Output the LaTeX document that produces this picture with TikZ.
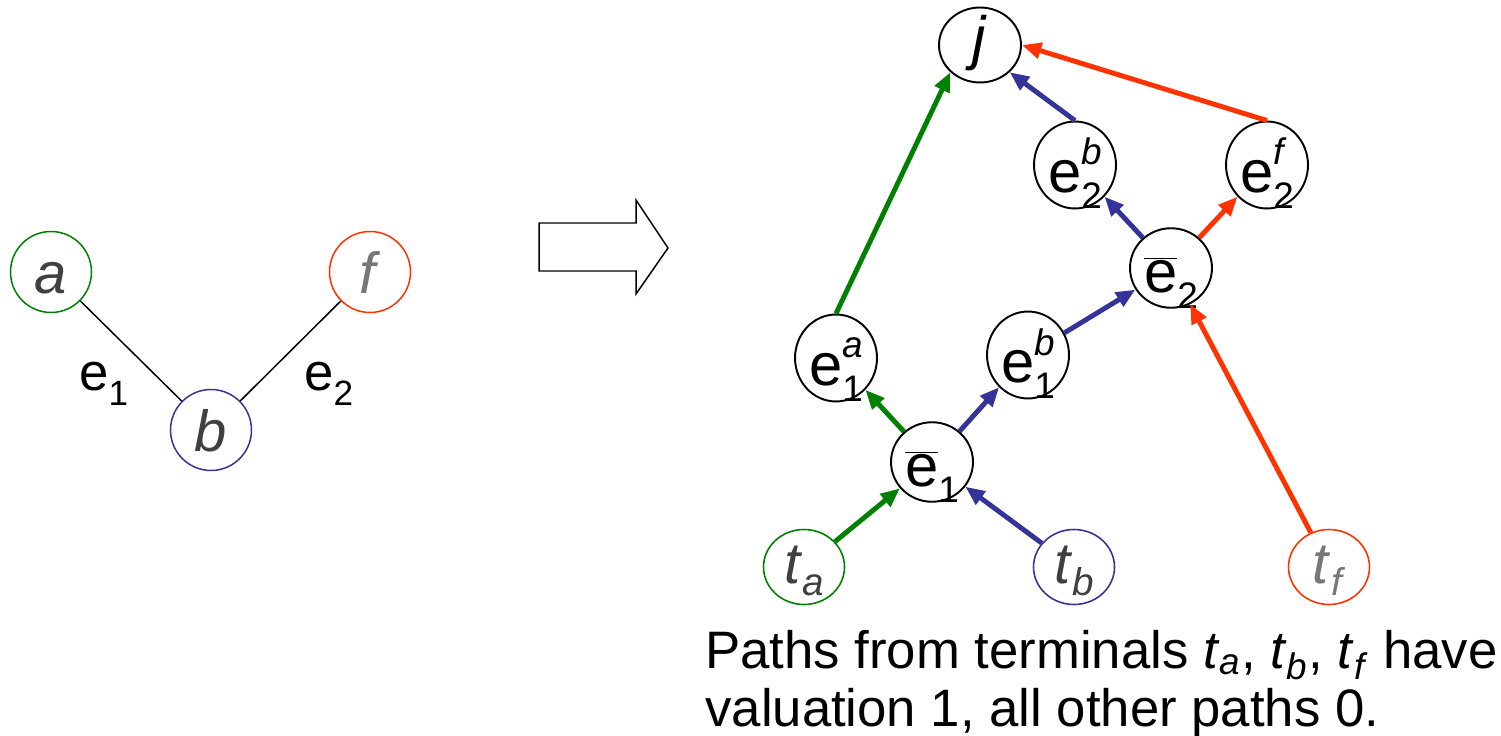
\documentclass[tikz,border=0pt]{standalone}
\usepackage{fontspec}
\setmainfont{Liberation Sans}
\usetikzlibrary{arrows.meta,shapes.geometric}

\definecolor{pgreen}{RGB}{0,128,0}
\definecolor{pblue}{RGB}{51,51,153}
\definecolor{pred}{RGB}{255,51,0}
\definecolor{dgray}{RGB}{64,64,64}
\definecolor{lgray}{RGB}{119,119,119}

\newcommand{\scrsz}{\fontsize{21}{21}\selectfont}
% e with stacked super- and subscript, e with a bar, terminal t
\newcommand{\eud}[2]{e\rlap{\raisebox{15.5pt}{\scrsz\textit{#1}}}\raisebox{-9pt}{\scrsz #2}}
\newcommand{\ebar}[1]{$\overline{\hbox{e}}$\raisebox{-9pt}{\scrsz #1}}
\newcommand{\term}[1]{\textit{t}\raisebox{-7pt}{\fontsize{22}{22}\selectfont\textit{#1}}}

\tikzset{
  vert/.style={circle, draw, line width=0.85pt, minimum size=1.62cm, inner sep=0pt,
    font=\fontsize{33}{38}\selectfont, text height=27pt, text depth=2pt},
  enode/.style={ellipse, draw, line width=1.1pt, minimum width=1.64cm, minimum height=1.56cm,
    inner sep=0pt, font=\fontsize{34}{40}\selectfont, text height=33pt, text depth=2pt},
  tnode/.style={ellipse, draw, line width=0.9pt, minimum width=1.62cm, minimum height=1.5cm,
    inner sep=0pt, font=\fontsize{33}{38}\selectfont, text height=21pt, text depth=2pt},
  flow/.style={line width=2.8pt, -{Triangle[length=11pt,width=9pt]}},
  txt/.style={anchor=base west, inner sep=0pt, font=\fontsize{30}{36}\selectfont}
}

\begin{document}
\begin{tikzpicture}[x=0.02cm, y=-0.02cm]
  \useasboundingbox (0,0) rectangle (1501,736);

  % the small graph
  \node[vert, pgreen, text=dgray] (a) at (51,272) {\textit{a}};
  \node[vert, pred, text=lgray] (f) at (370,272) {\textit{f}};
  \node[vert, pblue, text=dgray] (b) at (211,430) {\textit{b}};
  \draw[line width=0.85pt] (a) -- (b);
  \draw[line width=0.85pt] (f) -- (b);
  \node[anchor=base west, inner sep=0pt, font=\fontsize{30}{36}\selectfont] (lab1) at (79,391)
    {e\raisebox{-8pt}{\fontsize{20}{20}\selectfont 1}};
  \node[anchor=base west, inner sep=0pt, font=\fontsize{30}{36}\selectfont] (lab2) at (304,391)
    {e\raisebox{-8pt}{\fontsize{20}{20}\selectfont 2}};

  % block arrow
  \draw[line width=0.85pt] (539,223) -- (636,223) -- (636,200) -- (668,248)
    -- (636,294) -- (636,271) -- (539,271) -- cycle;

  % the flow graph
  \node[enode, minimum height=1.5cm, text height=17pt] (j) at (980,45) {\textit{j}};
  \node[enode] (e2b) at (1075,165) {\eud{b}{2}};
  \node[enode] (e2f) at (1267,165) {\eud{f}{2}};
  \node[enode, text height=30pt] (eb2) at (1171,268) {\ebar{2}};
  \node[enode] (e1a) at (836,358) {\eud{a}{1}};
  \node[enode] (e1b) at (1028,355) {\eud{b}{1}};
  \node[enode, text height=30pt] (eb1) at (932,462) {\ebar{1}};
  \node[tnode, pgreen, text=dgray] (ta) at (804,567) {\term{a}};
  \node[tnode, pblue, text=dgray] (tb) at (1074,567) {\term{b}};
  \node[tnode, pred, text=lgray] (tf) at (1329,567) {\term{f}};

  \draw[flow, pgreen] (ta) -- (eb1);
  \draw[flow, pblue] (tb) -- (eb1);
  \draw[flow, pgreen] (eb1) -- (e1a);
  \draw[flow, pblue] (eb1) -- (e1b);
  \draw[flow, pblue] (e1b) -- (eb2);
  \draw[flow, pred] (tf) -- (eb2);
  \draw[flow, pblue] (eb2) -- (e2b);
  \draw[flow, pred] (eb2) -- (e2f);
  \draw[flow, pgreen] (e1a.north) -- (j.south west);
  \draw[flow, pblue] (e2b.north) -- (j.south east);
  \draw[flow, pred] (e2f.north) -- (j.east);

  \node[txt] (note1) at (705,668) {Paths from terminals \textit{t}\textsubscript{\textit{a}}, \textit{t}\textsubscript{\textit{b}}, \textit{t}\textsubscript{\textit{f}} have};
  \node[txt] (note2) at (705,726) {valuation 1, all other paths 0.};
\end{tikzpicture}
\end{document}
